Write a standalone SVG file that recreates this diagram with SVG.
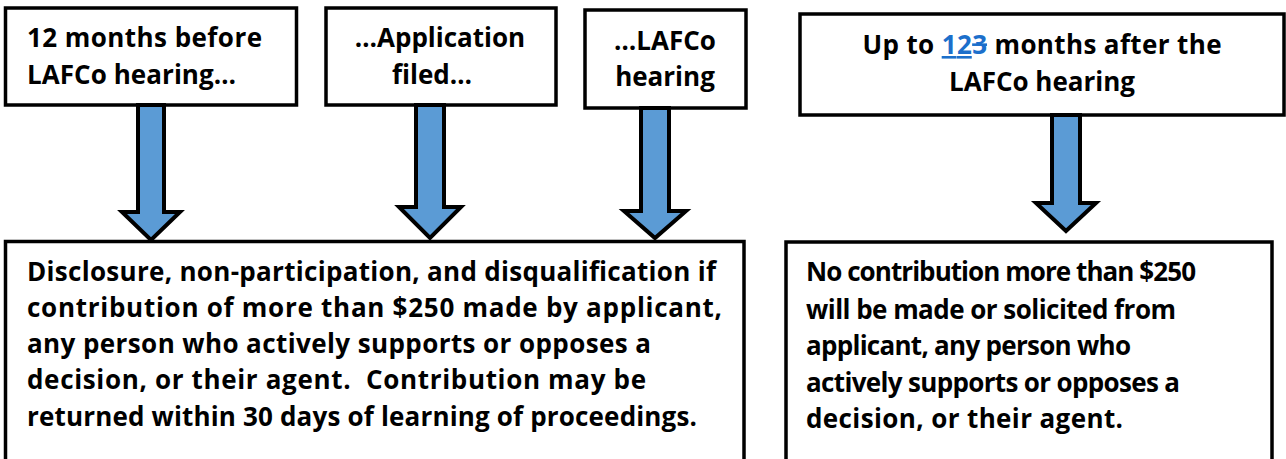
<svg xmlns="http://www.w3.org/2000/svg" width="1286" height="459" viewBox="0 0 1286 459">
<style>
.box{fill:#fff;stroke:#000;stroke-width:3.5}
.arr{fill:#5B9BD5;stroke:#000;stroke-width:4;stroke-linejoin:miter}
.t{font-family:"Open Sans","Liberation Sans",sans-serif;font-weight:bold;font-size:26px;fill:#000;white-space:pre}
.c{text-anchor:middle}
.blue{fill:#1C6FCB}
</style>
<rect width="1286" height="459" fill="#fff"/>
<g id="box1">
<rect class="box" x="5.5" y="8" width="291" height="97"/>
<text class="t" x="27" y="47" textLength="235">12 months before</text>
<text class="t" x="27" y="84" textLength="209">LAFCo hearing…</text>
</g>
<g id="box2">
<rect class="box" x="326" y="8" width="230" height="97"/>
<text class="t c" x="440" y="47">…Application</text>
<text class="t c" x="432" y="84">filed…</text>
</g>
<g id="box3">
<rect class="box" x="585" y="10" width="161" height="98"/>
<text class="t c" x="665" y="50">…LAFCo</text>
<text class="t c" x="665" y="86">hearing</text>
</g>
<g id="box4">
<rect class="box" x="800" y="14" width="484" height="101"/>
<text class="t c" x="1042" y="54" textLength="359">Up to <tspan class="blue" text-decoration="underline">12</tspan><tspan class="blue" text-decoration="line-through">3</tspan> months after the</text>
<text class="t c" x="1042" y="91">LAFCo hearing</text>
</g>
<g id="box5">
<rect class="box" x="5.5" y="241.5" width="738.5" height="230"/>
<text class="t" x="27" y="281" textLength="689">Disclosure, non-participation, and disqualification if</text>
<text class="t" x="27" y="317" textLength="695">contribution of more than $250 made by applicant,</text>
<text class="t" x="27" y="353" textLength="624">any person who actively supports or opposes a</text>
<text class="t" x="27" y="389" textLength="619">decision, or their agent.  Contribution may be</text>
<text class="t" x="27" y="426" textLength="670">returned within 30 days of learning of proceedings.</text>
</g>
<g id="box6">
<rect class="box" x="786" y="242" width="486" height="230"/>
<text class="t" x="806" y="281" textLength="390">No contribution more than $250</text>
<text class="t" x="806" y="319" textLength="370">will be made or solicited from</text>
<text class="t" x="806" y="355" textLength="325">applicant, any person who</text>
<text class="t" x="806" y="392" textLength="374">actively supports or opposes a</text>
<text class="t" x="806" y="428" textLength="317">decision, or their agent.</text>
</g>
<g id="connectors">
<path class="arr" d="M138,105 H164 V212 H180 L151,240 L122,212 H138 Z"/>
<path class="arr" d="M416,105 H444 V207 H461 L430,238 L399,207 H416 Z"/>
<path class="arr" d="M641,108 H669 V211 H686 L655,238 L624,211 H641 Z"/>
<path class="arr" d="M1052,115 H1080 V203 H1096 L1066,231 L1036,203 H1052 Z"/>
</g>
</svg>
